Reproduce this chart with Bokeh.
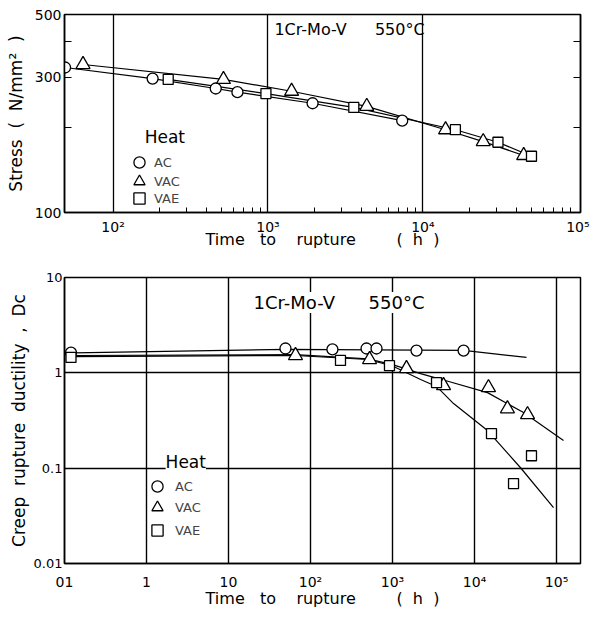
from bokeh.plotting import figure
from bokeh.models import FixedTicker, LogAxis, Label, Legend, LegendItem
from bokeh.layouts import column
from bokeh.embed import file_html
from bokeh.resources import INLINE

FONT = "DejaVu Sans"
NB = "\u00a0"

# ---------------- data: stress vs time to rupture (top) ----------------
top_ac_t = [49, 180, 460, 635, 1940, 7350]
top_ac_s = [325, 297, 274, 266, 243, 211]
top_vac_t = [64, 516, 1420, 4340, 14000, 24500, 44700]
top_vac_s = [333, 295, 268, 237, 196, 178, 159]
top_vae_t = [227, 970, 3580, 16200, 30500, 50200]
top_vae_s = [295, 263, 235, 196, 177, 158]

top_y_ticks = [100, 200, 300, 400, 500]
top_y_labels = {100: "100", 200: "", 300: "300", 400: "", 500: "500"}
top_x_ticks = [100, 1000, 10000, 100000]
top_x_labels = {100: "10²", 1000: "10³", 10000: "10⁴", 100000: "10⁵"}
top_x_minor = [m * d for d in (100, 1000, 10000) for m in range(2, 10)]

# ---------------- data: creep rupture ductility (bottom) ----------------
bot_ac_t = [0.12, 49.5, 185, 482, 638, 1960, 7350]
bot_ac_d = [1.63, 1.80, 1.76, 1.80, 1.80, 1.71, 1.71]
bot_vac_t = [65.6, 525, 1480, 4190, 14800, 25200, 44300]
bot_vac_d = [1.52, 1.38, 1.11, 0.736, 0.70, 0.42, 0.365]
bot_vae_t = [0.12, 232, 918, 3440, 16100, 29900, 49500]
bot_vae_d = [1.45, 1.35, 1.19, 0.79, 0.23, 0.069, 0.135]

# fitted curves drawn on the reference
curve_ac_t = [0.13, 50, 7350, 43000]
curve_ac_d = [1.62, 1.76, 1.72, 1.45]
curve_vac_t = [0.13, 65, 500, 1000, 2200, 4400, 14400, 39600, 121600]
curve_vac_d = [1.52, 1.55, 1.40, 1.22, 0.98, 0.83, 0.62, 0.383, 0.195]
curve_vae_t = [0.13, 65, 500, 1000, 2200, 3440, 5550, 14400, 36400, 91900]
curve_vae_d = [1.48, 1.52, 1.38, 1.18, 0.85, 0.72, 0.476, 0.248, 0.101, 0.0386]

bot_x_ticks = [0.1, 1, 10, 100, 1000, 10000, 100000]
bot_x_labels = {0.1: "01", 1: "1", 10: "10", 100: "10²", 1000: "10³",
                10000: "10⁴", 100000: "10⁵"}
bot_y_ticks = [0.01, 0.1, 1, 10]
bot_y_labels = {0.01: "0.01", 0.1: "0.1", 1: "1", 10: "10"}

heat_names = ["AC", "VAC", "VAE"]

X_LABEL = "Time" + NB * 2 + " to" + NB * 3 + " rupture" + NB * 7 + " (" + NB + " h" + NB + " )"
Y1_LABEL = "Stress" + NB + " (" + NB + " N/mm²" + NB + " )"
Y2_LABEL = "Creep" + NB + " rupture" + NB + " ductility" + NB + " ," + NB + " Dc"


def style_axes(p):
    for ax in p.xaxis + p.yaxis:
        ax.axis_line_color = "black"
        ax.axis_line_width = 1.5
        ax.major_tick_line_color = "black"
        ax.minor_tick_line_color = "black"
        ax.major_label_text_font = FONT
        ax.major_label_text_color = "black"
        ax.axis_label_text_font = FONT
        ax.axis_label_text_font_style = "normal"
        ax.axis_label_text_color = "black"
    p.outline_line_color = "black"
    p.outline_line_width = 1.5
    p.outline_line_alpha = 1


def markers(p, t_ac, v_ac, t_vac, v_vac, t_vae, v_vae):
    kw = dict(fill_color="white", line_color="black", line_width=1.3)
    r1 = p.scatter(t_ac, v_ac, marker="circle", size=11, **kw)
    r2 = p.scatter(t_vac, v_vac, marker="triangle", size=14, **kw)
    r3 = p.scatter(t_vae, v_vae, marker="square", size=10, **kw)
    return r1, r2, r3


def add_legend(p, renderers, x, ys, standoff):
    # one single-entry legend per heat so the row pitch can be tight
    for name, r, y in zip(heat_names, renderers, ys):
        leg = Legend(items=[LegendItem(label=name, renderers=[r])],
                     location=(x, y),
                     label_text_font=FONT, label_text_font_size="13px",
                     glyph_width=28, glyph_height=28, label_standoff=standoff,
                     spacing=0, padding=0, margin=0, border_line_color=None,
                     background_fill_alpha=0)
        p.add_layout(leg, "center")


lkw = dict(line_color="black", line_width=1.2)

# ======================= TOP =======================
p1 = figure(width=594, height=251, x_axis_type="log", y_axis_type="log",
            x_range=(48.6, 1.04e5), y_range=(100, 500),
            output_backend="svg", toolbar_location=None,
            min_border_left=63, min_border_right=7,
            min_border_top=14, min_border_bottom=0)
p1.background_fill_color = "white"
style_axes(p1)

p1.xaxis.ticker = FixedTicker(ticks=top_x_ticks, minor_ticks=top_x_minor)
p1.xaxis.major_label_overrides = top_x_labels
p1.xaxis.major_tick_in = 0
p1.xaxis.major_tick_out = 0
p1.xaxis.minor_tick_in = 5
p1.xaxis.minor_tick_out = 0
p1.xaxis.major_label_text_font_size = "14px"
p1.xaxis.major_label_standoff = 6
p1.xaxis.axis_label = X_LABEL
p1.xaxis.axis_label_text_font_size = "16px"
p1.xaxis.axis_label_standoff = -8

p1.yaxis.ticker = FixedTicker(ticks=top_y_ticks)
p1.yaxis.major_label_overrides = top_y_labels
p1.yaxis.major_tick_in = 7
p1.yaxis.major_tick_out = 0
p1.yaxis.minor_tick_in = 0
p1.yaxis.minor_tick_out = 0
p1.yaxis.major_label_text_font_size = "14px"
p1.yaxis.major_label_standoff = 3
p1.yaxis.axis_label = Y1_LABEL
p1.yaxis.axis_label_text_font_size = "17px"
p1.yaxis.axis_label_standoff = 6

rax = LogAxis(ticker=FixedTicker(ticks=[200, 300, 400]),
              major_label_overrides={200: "", 300: "", 400: ""},
              major_label_text_font_size="0px", major_label_standoff=0,
              major_label_orientation="vertical",
              axis_label=None, axis_label_standoff=0,
              major_tick_in=7, major_tick_out=0, minor_tick_in=0, minor_tick_out=0,
              axis_line_color="black", axis_line_width=1.5)
p1.add_layout(rax, "right")

p1.xgrid.ticker = FixedTicker(ticks=[100, 1000, 10000])
p1.xgrid.grid_line_color = "black"
p1.xgrid.grid_line_width = 1.3
p1.xgrid.grid_line_alpha = 1
p1.ygrid.visible = False

p1.line(top_ac_t, top_ac_s, **lkw)
p1.line(top_vac_t, top_vac_s, **lkw)
p1.line(top_vae_t, top_vae_s, **lkw)
t1, t2, t3 = markers(p1, top_ac_t, top_ac_s, top_vac_t, top_vac_s, top_vae_t, top_vae_s)

p1.add_layout(Label(x=1100, y=443, text="1Cr-Mo-V", text_baseline="middle",
                    text_font=FONT, text_font_size="16px", text_color="black"))
p1.add_layout(Label(x=4900, y=443, text="550°C", text_baseline="middle",
                    text_font=FONT, text_font_size="16px", text_color="black"))
p1.add_layout(Label(x=160, y=184, text="Heat", text_baseline="middle",
                    text_font=FONT, text_font_size="17px", text_color="black"))
add_legend(p1, [t1, t2, t3], 61, [36, 17, 0], 1)

# ======================= BOTTOM =======================
p2 = figure(width=594, height=366, x_axis_type="log", y_axis_type="log",
            x_range=(0.1, 1.96e5), y_range=(0.01, 10),
            output_backend="svg", toolbar_location=None,
            min_border_left=64, min_border_right=14,
            min_border_top=26, min_border_bottom=54)
p2.background_fill_color = "white"
style_axes(p2)

p2.xaxis.ticker = FixedTicker(ticks=bot_x_ticks)
p2.xaxis.major_label_overrides = bot_x_labels
p2.xaxis.major_tick_in = 0
p2.xaxis.major_tick_out = 0
p2.xaxis.minor_tick_in = 0
p2.xaxis.minor_tick_out = 0
p2.xaxis.major_label_text_font_size = "14px"
p2.xaxis.major_label_standoff = 10
p2.xaxis.axis_label = X_LABEL
p2.xaxis.axis_label_text_font_size = "16px"
p2.xaxis.axis_label_standoff = -4

p2.yaxis.ticker = FixedTicker(ticks=bot_y_ticks)
p2.yaxis.major_label_overrides = bot_y_labels
p2.yaxis.major_tick_in = 0
p2.yaxis.major_tick_out = 0
p2.yaxis.minor_tick_in = 0
p2.yaxis.minor_tick_out = 0
p2.yaxis.major_label_text_font_size = "13px"
p2.yaxis.major_label_standoff = 2
p2.yaxis.axis_label = Y2_LABEL
p2.yaxis.axis_label_text_font_size = "17px"
p2.yaxis.axis_label_standoff = 2

p2.xgrid.ticker = FixedTicker(ticks=[1, 10, 100, 1000, 10000, 100000])
p2.ygrid.ticker = FixedTicker(ticks=[0.1, 1])
for g in (p2.xgrid, p2.ygrid):
    g.grid_line_color = "black"
    g.grid_line_width = 1.4
    g.grid_line_alpha = 1

p2.line(curve_ac_t, curve_ac_d, **lkw)
p2.line(curve_vac_t, curve_vac_d, **lkw)
p2.line(curve_vae_t, curve_vae_d, **lkw)
b1, b2, b3 = markers(p2, bot_ac_t, bot_ac_d, bot_vac_t, bot_vac_d, bot_vae_t, bot_vae_d)

p2.add_layout(Label(x=20.2, y=5.47, text="1Cr-Mo-V", text_baseline="middle",
                    text_font=FONT, text_font_size="18px", text_color="black",
                    background_fill_color="white"))
p2.add_layout(Label(x=510, y=5.47, text="550°C", text_baseline="middle",
                    text_font=FONT, text_font_size="18px", text_color="black",
                    background_fill_color="white"))
p2.add_layout(Label(x=1.71, y=0.117, text="Heat", text_baseline="middle",
                    text_font=FONT, text_font_size="17px", text_color="black",
                    background_fill_color="white"))
add_legend(p2, [b1, b2, b3], 79, [63, 42, 19], 4)

layout = column(p1, p2, spacing=0)
open("out.html", "w").write(file_html(layout, INLINE))
